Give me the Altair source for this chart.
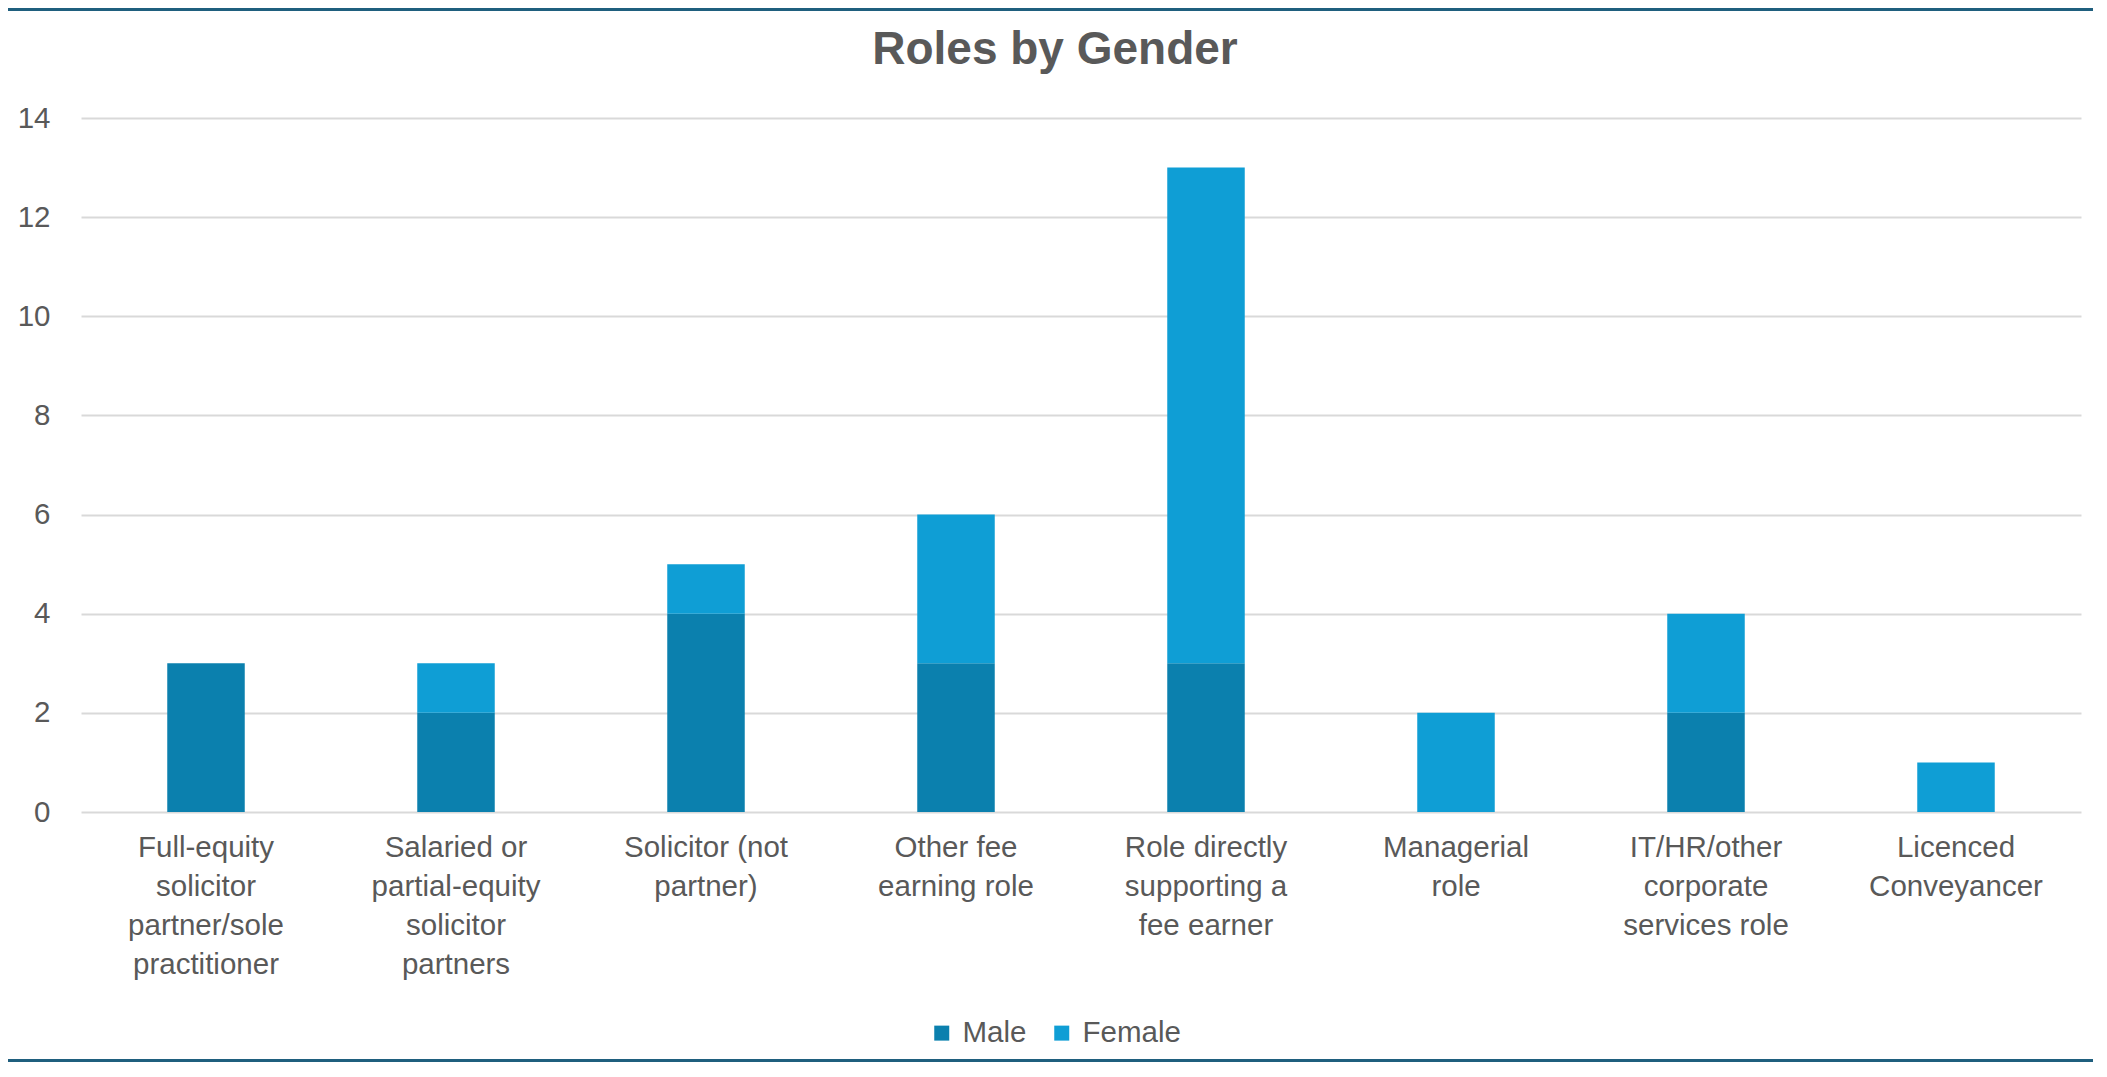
import altair as alt
import pandas as pd

categories = [
    "Full-equity\nsolicitor\npartner/sole\npractitioner",
    "Salaried or\npartial-equity\nsolicitor\npartners",
    "Solicitor (not\npartner)",
    "Other fee\nearning role",
    "Role directly\nsupporting a\nfee earner",
    "Managerial\nrole",
    "IT/HR/other\ncorporate\nservices role",
    "Licenced\nConveyancer",
]
male = [3, 2, 4, 3, 3, 0, 2, 0]
female = [0, 1, 1, 3, 10, 2, 2, 1]
genders = ["Male", "Female"]
colors = ["#0B80AE", "#0F9ED5"]
y_ticks = [0, 2, 4, 6, 8, 10, 12, 14]

rows = []
for c, m, f in zip(categories, male, female):
    rows.append({"role": c, "gender": "Male", "count": m, "ord": 0})
    rows.append({"role": c, "gender": "Female", "count": f, "ord": 1})
df = pd.DataFrame(rows)

FONT = "Liberation Sans"
GREY = "#595959"
FS = 29.5
W, H = 2000, 694
PL, PT, PR, PB = 73, 110, 12, 250

bars = alt.Chart(df).mark_bar().encode(
    x=alt.X(
        "role:N",
        sort=categories,
        scale=alt.Scale(paddingInner=0.69, paddingOuter=0.345),
        axis=alt.Axis(
            title=None, labelAngle=0, labelExpr="split(datum.label, '\\n')",
            domain=False, ticks=False, grid=False, labelFont=FONT, labelFontSize=FS,
            labelColor=GREY, labelLineHeight=39, labelPadding=21, labelBaseline="top",
        ),
    ),
    y=alt.Y(
        "count:Q",
        stack="zero",
        scale=alt.Scale(domain=[0, 14], nice=False),
        axis=alt.Axis(
            title=None, values=y_ticks, domain=False, ticks=False, grid=True,
            gridColor="#D9D9D9", gridWidth=2, labelFont=FONT, labelFontSize=FS,
            labelColor=GREY, labelPadding=31,
        ),
    ),
    color=alt.Color(
        "gender:N",
        scale=alt.Scale(domain=genders, range=colors),
        legend=alt.Legend(
            title=None, orient="none", direction="horizontal", legendX=846, legendY=900,
            symbolType="square", symbolSize=225, symbolStrokeWidth=0, labelFont=FONT,
            labelFontSize=FS, labelColor=GREY, labelOffset=6, columnPadding=20, padding=0,
        ),
    ),
    order=alt.Order("ord:Q", sort="ascending"),
)

edge = pd.DataFrame({"k": [0]})
top_border = alt.Chart(edge).mark_rule(color="#1F5F7E", strokeWidth=3).encode(
    x=alt.value(-PL), x2=alt.value(W + PR), y=alt.value(-PT + 1.5)
)
bottom_border = alt.Chart(edge).mark_rule(color="#1F5F7E", strokeWidth=3).encode(
    x=alt.value(-PL), x2=alt.value(W + PR), y=alt.value(H + PB - 1.5)
)

chart = alt.layer(bars, top_border, bottom_border).properties(
    width=W,
    height=H,
    title=alt.TitleParams(
        "Roles by Gender", font=FONT, fontSize=46, fontWeight="bold", color=GREY,
        anchor="middle", dx=-26, offset=-102, baseline="alphabetic",
    ),
    autosize=alt.AutoSizeParams(type="none"),
    padding={"left": PL, "top": PT, "right": PR, "bottom": PB},
).configure(background="white").configure_view(stroke=None)

chart.save("out.html", embed_options={"renderer": "svg", "actions": False})
